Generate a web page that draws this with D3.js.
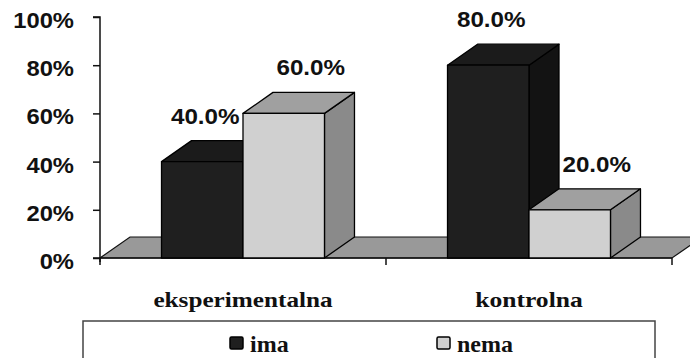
<!DOCTYPE html>
<html>
<head>
<meta charset="utf-8">
<script src="https://cdn.jsdelivr.net/npm/d3@7"></script>
<style>
  html, body { margin: 0; padding: 0; background: #fff; }
  svg { display: block; }
  .tick-label, .value-label { font-family: "Liberation Sans", Arial, sans-serif; font-weight: bold; fill: #111; }
  .cat-label, .legend-label { font-family: "Liberation Serif", "Times New Roman", serif; font-weight: bold; fill: #111; }
</style>
</head>
<body>
<svg id="chart" width="690" height="358"></svg>
<script>
// Groups, series and shares (fractions of 1)
const categories = ["eksperimentalna", "kontrolna"];
const seriesNames = ["ima", "nema"];
const ima = [0.40, 0.80];
const nema = [0.60, 0.20];
const yTicks = [0, 0.2, 0.4, 0.6, 0.8, 1.0];
const yTickLabels = ["0%", "20%", "40%", "60%", "80%", "100%"];

const values = { ima, nema };

// Shading of each series: front, top and side faces
const faces = {
  ima:  { front: "#1f1f1f", top: "#1b1b1b", side: "#131313" },
  nema: { front: "#d0d0d0", top: "#a0a0a0", side: "#8a8a8a" }
};

const plotLeft = 100, plotRight = 672, plotTop = 17, plotBase = 258;
const depthX = 30, depthY = -21;

const svg = d3.select("#chart");

// widen a text element horizontally by a factor, keeping its anchor
function widen(sel, k) {
  sel.each(function () {
    const w = this.getComputedTextLength();
    d3.select(this).attr("textLength", w * k).attr("lengthAdjust", "spacingAndGlyphs");
  });
}

const x = d3.scaleBand().domain(categories).range([plotLeft, plotRight]).paddingInner(0).paddingOuter(0);
const xs = d3.scaleBand().domain(seriesNames).range([0, x.bandwidth()]).paddingInner(0).paddingOuter(0.755);
const y = d3.scaleLinear().domain([0, 1]).range([plotBase, plotTop]);

// floor
svg.append("path")
  .attr("d", `M${plotLeft},${plotBase} L${plotRight},${plotBase} L${plotRight + depthX},${plotBase + depthY} L${plotLeft + depthX},${plotBase + depthY} Z`)
  .attr("fill", "#999").attr("stroke", "#111").attr("stroke-width", 1.2);

// value axis
const yAxis = d3.axisLeft(y).tickValues(yTicks).tickSize(7).tickFormat("");
const gy = svg.append("g").attr("transform", `translate(${plotLeft},0)`).call(yAxis);
gy.select(".domain").attr("stroke", "#111").attr("stroke-width", 1.5).attr("d", `M-7,${plotTop}H0V${plotBase + 4}`);
gy.selectAll(".tick line").attr("stroke", "#111").attr("stroke-width", 1.5);

svg.append("g").selectAll("text").data(yTicks).join("text")
  .attr("class", "tick-label")
  .attr("x", 74).attr("y", d => y(d) + 11)
  .attr("text-anchor", "end")
  .attr("font-size", 22)
  .text((d, i) => yTickLabels[i])
  .call(widen, 1.08);

// category axis along the front edge of the floor
const gx = svg.append("g").attr("transform", `translate(0,${plotBase})`)
  .call(d3.axisBottom(x).tickValues([]).tickSizeOuter(0));
gx.select(".domain").attr("stroke", "#111").attr("stroke-width", 1.5).attr("d", `M${plotLeft - 7},0H${plotRight}`);
const boundaries = [plotLeft, ...categories.map(c => x(c) + x.bandwidth())];
gx.selectAll("line.bnd").data(boundaries).join("line")
  .attr("class", "bnd")
  .attr("x1", d => d).attr("x2", d => d).attr("y1", 0).attr("y2", 7)
  .attr("stroke", "#111").attr("stroke-width", 1.5);

// 3D bars
const bars = [];
categories.forEach((c, ci) => {
  seriesNames.forEach(s => bars.push({ c, s, v: values[s][ci] }));
});

const gb = svg.append("g");
bars.forEach(b => {
  const x0 = x(b.c) + xs(b.s), x1 = x0 + xs.bandwidth();
  const yt = y(b.v), yb = y(0);
  const f = faces[b.s];
  const g = gb.append("g").attr("stroke", "#000").attr("stroke-width", 1.3).attr("stroke-linejoin", "round");
  g.append("path").attr("fill", f.side)
    .attr("d", `M${x1},${yb} L${x1 + depthX},${yb + depthY} L${x1 + depthX},${yt + depthY} L${x1},${yt} Z`);
  g.append("path").attr("fill", f.top)
    .attr("d", `M${x0},${yt} L${x0 + depthX},${yt + depthY} L${x1 + depthX},${yt + depthY} L${x1},${yt} Z`);
  g.append("rect").attr("fill", f.front)
    .attr("x", x0).attr("y", yt).attr("width", x1 - x0).attr("height", yb - yt);
});

// value labels above the bars
const labelShift = { ima: 3, nema: 27 };
svg.append("g").selectAll("text").data(bars).join("text")
  .attr("class", "value-label")
  .attr("x", d => x(d.c) + xs(d.s) + xs.bandwidth() / 2 + labelShift[d.s])
  .attr("y", d => y(d.v) - 38)
  .attr("text-anchor", "middle")
  .attr("font-size", 22)
  .text(d => (d.v * 100).toFixed(1) + "%")
  .call(widen, 1.1);

// category names
svg.append("g").selectAll("text").data(categories).join("text")
  .attr("class", "cat-label")
  .attr("x", d => x(d) + x.bandwidth() / 2)
  .attr("y", 307)
  .attr("text-anchor", "middle")
  .attr("font-size", 21)
  .attr("textLength", d => d.length * 11.95)
  .attr("lengthAdjust", "spacingAndGlyphs")
  .text(d => d);

// legend
const lg = svg.append("g");
lg.append("rect").attr("x", 83).attr("y", 321).attr("width", 572).attr("height", 60)
  .attr("fill", "#fff").attr("stroke", "#444").attr("stroke-width", 1.5);
const legendX = d3.scalePoint().domain(seriesNames).range([230, 437]);
const li = lg.selectAll("g.item").data(seriesNames).join("g").attr("class", "item")
  .attr("transform", d => `translate(${legendX(d)},337)`);
li.append("rect").attr("width", 13).attr("height", 12).attr("rx", 1.5)
  .attr("fill", d => faces[d].front).attr("stroke", "#000").attr("stroke-width", 1.5);
li.append("text").attr("class", "legend-label")
  .attr("x", 20).attr("y", 15)
  .attr("font-size", 24)
  .text(d => d);
</script>
</body>
</html>
